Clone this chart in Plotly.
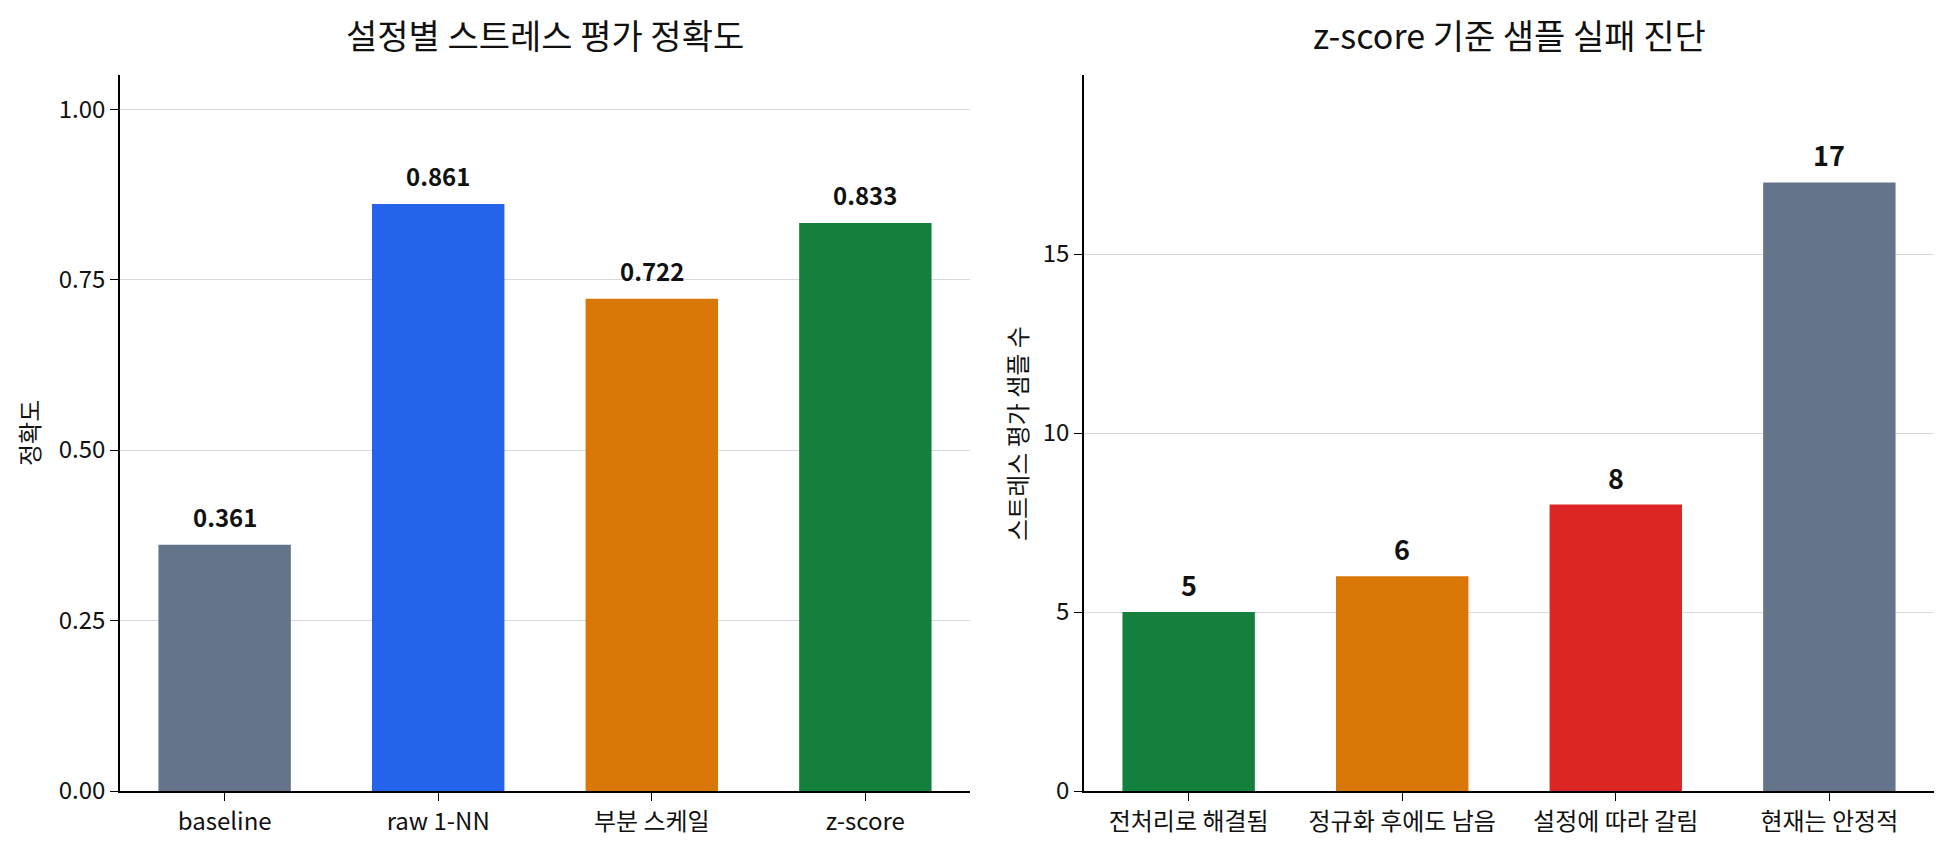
import plotly.graph_objects as go
from plotly.subplots import make_subplots

# data
acc_labels = ["baseline", "raw 1-NN", "부분 스케일", "z-score"]
acc_values = [0.361, 0.861, 0.722, 0.833]
acc_colors = ["#64748b", "#2563eb", "#d97706", "#15803d"]

diag_labels = ["전처리로 해결됨", "정규화 후에도 남음", "설정에 따라 갈림", "현재는 안정적"]
diag_values = [5, 6, 8, 17]
diag_colors = ["#15803d", "#d97706", "#dc2626", "#64748b"]

acc_ticks = [0, 0.25, 0.5, 0.75, 1.0]
diag_ticks = [0, 5, 10, 15]

FONT = "Noto Sans CJK KR"
W, H = 1950, 853

fig = make_subplots(rows=1, cols=2)

fig.add_trace(go.Bar(x=acc_labels, y=acc_values, marker_color=acc_colors,
                     marker_line_width=0, width=0.62, showlegend=False,
                     hoverinfo="x+y"), row=1, col=1)
fig.add_trace(go.Bar(x=diag_labels, y=diag_values, marker_color=diag_colors,
                     marker_line_width=0, width=0.62, showlegend=False,
                     hoverinfo="x+y"), row=1, col=2)

# value labels above bars
for lab, val in zip(acc_labels, acc_values):
    fig.add_annotation(x=lab, y=val, xref="x", yref="y", text="<b>%.3f</b>" % val,
                       showarrow=False, yanchor="bottom", yshift=9,
                       font=dict(family=FONT, size=24, color="#111111"))
for lab, val in zip(diag_labels, diag_values):
    fig.add_annotation(x=lab, y=val, xref="x2", yref="y2", text="<b>%d</b>" % val,
                       showarrow=False, yanchor="bottom", yshift=6,
                       font=dict(family=FONT, size=27, color="#111111"))

# titles
fig.add_annotation(x=545 / W, y=1 - 35 / H, xref="paper", yref="paper",
                   xanchor="center", yanchor="middle",
                   text="설정별 스트레스 평가 정확도", showarrow=False,
                   font=dict(family=FONT, size=34, color="#111111"))
fig.add_annotation(x=1509 / W, y=1 - 35 / H, xref="paper", yref="paper",
                   xanchor="center", yanchor="middle",
                   text="z-score 기준 샘플 실패 진단", showarrow=False,
                   font=dict(family=FONT, size=34, color="#111111"))
fig.add_annotation(x=28 / W, y=1 - 433 / H, xref="paper", yref="paper",
                   xanchor="center", yanchor="middle",
                   text="정확도", textangle=-90, showarrow=False,
                   font=dict(family=FONT, size=24, color="#111111"))
fig.add_annotation(x=1016 / W, y=1 - 433 / H, xref="paper", yref="paper",
                   xanchor="center", yanchor="middle",
                   text="스트레스 평가 샘플 수", textangle=-90, showarrow=False,
                   font=dict(family=FONT, size=24, color="#111111"))

axis_common = dict(showline=True, linecolor="black", linewidth=1.6,
                   ticks="outside", ticklen=8, tickwidth=1.4, tickcolor="black",
                   tickfont=dict(family=FONT, size=24, color="#111111"),
                   automargin=False, zeroline=False)

fig.update_xaxes(axis_common, showgrid=False, range=[-0.49, 3.49])
fig.update_xaxes(domain=[120 / W, 970 / W], row=1, col=1)
fig.update_xaxes(domain=[1084 / W, 1934 / W], row=1, col=2)

fig.update_yaxes(axis_common, showgrid=True, gridcolor="#d6d9de", gridwidth=1.2)
fig.update_yaxes(domain=[1 - 791 / H, 1 - 75 / H])
fig.update_yaxes(range=[0, 1.05], tickvals=acc_ticks,
                 ticktext=["%.2f" % t for t in acc_ticks], row=1, col=1)
fig.update_yaxes(range=[0, 20], tickvals=diag_ticks, row=1, col=2)

fig.update_layout(width=W, height=H, margin=dict(l=0, r=0, t=0, b=0),
                  plot_bgcolor="white", paper_bgcolor="white",
                  font=dict(family=FONT), bargap=0.38)

# drop the default page margin so the figure sits at the window corner
fig.write_html("out.html", config={"displayModeBar": False},
               post_script="document.body.style.margin='0';")
